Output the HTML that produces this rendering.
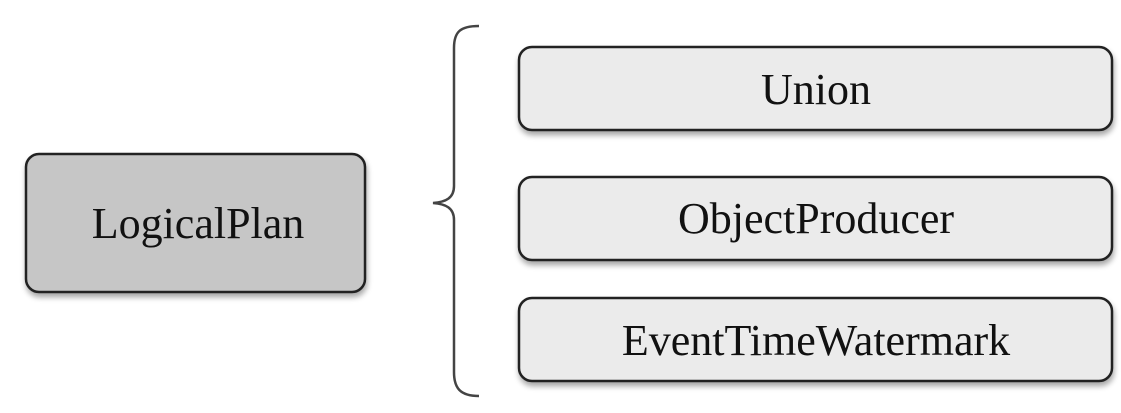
<!DOCTYPE html>
<html><head><meta charset="utf-8"><style>
html,body{margin:0;padding:0;background:#fff;}
svg{display:block;}
text{font-family:"Liberation Serif",serif;font-size:44px;fill:#111;text-anchor:middle;}
</style></head><body>
<svg width="1121" height="413" viewBox="0 0 1121 413">
<defs>
<filter id="sh" x="-10%" y="-20%" width="120%" height="150%">
<feGaussianBlur in="SourceAlpha" stdDeviation="3"/>
<feOffset dx="1" dy="4"/>
<feComponentTransfer><feFuncA type="linear" slope="0.35"/></feComponentTransfer>
<feMerge><feMergeNode/><feMergeNode in="SourceGraphic"/></feMerge>
</filter>
</defs>
<rect x="26" y="154" width="339" height="138" rx="13" fill="#c6c6c6" stroke="#222" stroke-width="2.5" filter="url(#sh)"/>
<text x="198" y="238">LogicalPlan</text>
<path d="M479 26 C460 26 454 32 454 48 L454 186 C454 198 446 202 433 203 C446 204 454 208 454 220 L454 372 C454 388 460 396 479 396" fill="none" stroke="#444" stroke-width="2.5"/>
<rect x="519" y="47" width="593" height="83" rx="13" fill="#ebebeb" stroke="#222" stroke-width="2.5" filter="url(#sh)"/>
<text x="816" y="104">Union</text>
<rect x="519" y="177" width="593" height="83" rx="13" fill="#ebebeb" stroke="#222" stroke-width="2.5" filter="url(#sh)"/>
<text x="816" y="233">ObjectProducer</text>
<rect x="519" y="298" width="593" height="83" rx="13" fill="#ebebeb" stroke="#222" stroke-width="2.5" filter="url(#sh)"/>
<text x="816" y="355">EventTimeWatermark</text>
</svg>
</body></html>
